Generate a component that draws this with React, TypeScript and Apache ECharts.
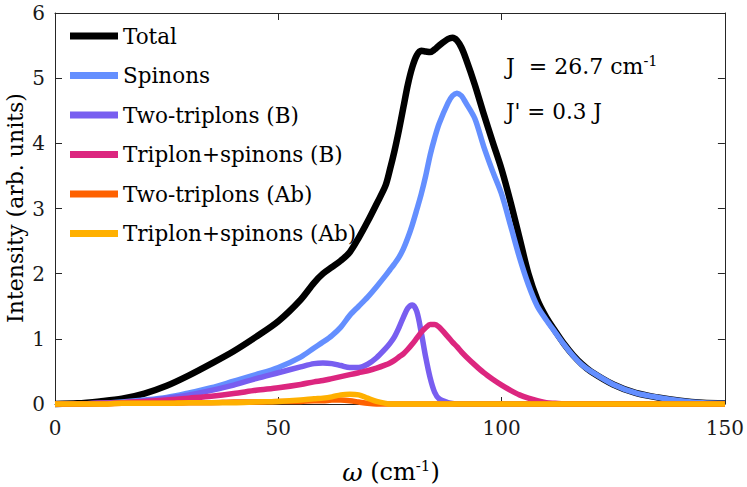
import React, { useEffect, useRef } from "react";
import * as echarts from "echarts";

const omega = [0,5,10,15,20,25,30,35,40,45,50,55,58,60,62,64,66,68,70,72,74,75,76,77,78,79,80,81,82,83,84,85,86,88,89,90,91,92,94,96,98,100,102,104,106,108,110,112,114,116,118,120,125,130,135,140,145,150];

const total = [0,0.01,0.04,0.08,0.16,0.28,0.44,0.62,0.81,1.03,1.27,1.6,1.86,2.0,2.1,2.2,2.33,2.55,2.8,3.07,3.35,3.6,3.88,4.2,4.55,4.9,5.17,5.35,5.42,5.41,5.4,5.44,5.5,5.6,5.62,5.58,5.47,5.3,4.9,4.45,4.02,3.6,3.1,2.55,2.0,1.6,1.33,1.12,0.92,0.75,0.61,0.5,0.3,0.17,0.1,0.05,0.02,0.01];

const spinons = [0,0,0.01,0.03,0.06,0.1,0.17,0.25,0.35,0.45,0.56,0.72,0.86,0.95,1.05,1.18,1.36,1.5,1.64,1.8,1.97,2.06,2.15,2.25,2.38,2.55,2.75,2.98,3.22,3.5,3.82,4.08,4.3,4.62,4.73,4.77,4.73,4.62,4.38,3.95,3.57,3.22,2.74,2.25,1.83,1.5,1.29,1.1,0.91,0.74,0.6,0.5,0.3,0.17,0.1,0.05,0.02,0.01];

const twoTriplonsB = [0,0,0.01,0.02,0.05,0.09,0.14,0.21,0.29,0.39,0.48,0.57,0.62,0.63,0.62,0.59,0.56,0.56,0.61,0.71,0.85,0.93,1.03,1.17,1.33,1.47,1.52,1.42,1.1,0.72,0.4,0.18,0.08,0.02,0.01,0,0,0,0,0,0,0,0,0,0,0,0,0,0,0,0,0,0,0,0,0,0,0];

const triplonSpinonsB = [0,0,0.01,0.02,0.04,0.06,0.09,0.12,0.16,0.21,0.25,0.3,0.34,0.36,0.39,0.42,0.45,0.48,0.51,0.55,0.6,0.63,0.67,0.72,0.77,0.84,0.92,1.01,1.1,1.17,1.22,1.22,1.18,1.03,0.95,0.88,0.8,0.73,0.6,0.48,0.38,0.29,0.21,0.14,0.09,0.05,0.02,0.01,0,0,0,0,0,0,0,0,0,0];

const twoTriplonsAb = [0,0,0,0.01,0.01,0.01,0.02,0.02,0.03,0.03,0.04,0.04,0.05,0.05,0.06,0.06,0.05,0.03,0.01,0,0,0,0,0,0,0,0,0,0,0,0,0,0,0,0,0,0,0,0,0,0,0,0,0,0,0,0,0,0,0,0,0,0,0,0,0,0,0];

const triplonSpinonsAb = [0,0,0,0.01,0.01,0.01,0.02,0.02,0.02,0.03,0.04,0.06,0.08,0.09,0.11,0.14,0.15,0.14,0.09,0.04,0.01,0,0,0,0,0,0,0,0,0,0,0,0,0,0,0,0,0,0,0,0,0,0,0,0,0,0,0,0,0,0,0,0,0,0,0,0,0];

const seriesNames = ["Total","Spinons","Two-triplons (B)","Triplon+spinons (B)","Two-triplons (Ab)","Triplon+spinons (Ab)"];
const seriesValues = [total, spinons, twoTriplonsB, triplonSpinonsB, twoTriplonsAb, triplonSpinonsAb];
const seriesColors = ["#000000","#648FFF","#785EF0","#DC267F","#FE6100","#FFB000"];
const seriesWidths = [6.5,5.5,5.5,5.5,5.5,5.5];

const xTicks = { min: 0, max: 150, interval: 50 };
const yTicks = { min: 0, max: 6, interval: 1 };

const FONT = "DejaVu Serif";
const AXIS_COLOR = "#262626";

export default function App() {
  const ref = useRef<HTMLDivElement>(null);
  useEffect(() => {
    if (!ref.current) return;
    const chart = echarts.init(ref.current, undefined, { renderer: "svg" });
    const axisCommon = {
      type: "value" as const,
      axisLine: { show: true, onZero: false, lineStyle: { color: AXIS_COLOR, width: 1 } },
      axisTick: { show: true, inside: true, length: 7, lineStyle: { color: AXIS_COLOR, width: 1 } },
      splitLine: { show: false },
    };
    const labelStyle = { fontFamily: FONT, fontSize: 20, color: "#1a1a1a" };
    chart.setOption({
      animation: false,
      backgroundColor: "#ffffff",
      grid: { left: 55, right: 19, top: 13, bottom: 83, containLabel: false },
      legend: {
        left: 65,
        top: 18,
        orient: "vertical",
        icon: "rect",
        itemWidth: 48,
        itemHeight: 7,
        itemGap: 13.5,
        textStyle: { fontFamily: FONT, fontSize: 21.5, color: "#000", lineHeight: 26 },
        data: seriesNames,
        selectedMode: false,
      },
      xAxis: [
        { ...axisCommon, ...xTicks, position: "bottom", axisLabel: { ...labelStyle, margin: 14 } },
        { ...axisCommon, ...xTicks, position: "top", axisLabel: { show: false } },
      ],
      yAxis: [
        { ...axisCommon, ...yTicks, position: "left", axisLabel: { ...labelStyle, margin: 10 } },
        { ...axisCommon, ...yTicks, position: "right", axisLabel: { show: false } },
      ],
      series: seriesNames.map((name, i) => ({
        name,
        type: "line",
        data: omega.map((x, j) => [x, seriesValues[i][j]]),
        showSymbol: false,
        symbol: "none",
        smooth: 0.3,
        clip: false,
        color: seriesColors[i],
        lineStyle: { color: seriesColors[i], width: seriesWidths[i], join: "round" },
        z: 2 + i,
      })),
      graphic: [
        {
          type: "text",
          x: 15,
          y: 208,
          rotation: Math.PI / 2,
          style: {
            text: "Intensity (arb. units)",
            fontFamily: FONT,
            fontSize: 22,
            fill: "#000",
            align: "center",
            verticalAlign: "middle",
          },
        },
        {
          type: "text",
          x: 391,
          y: 472,
          style: {
            text: "{w|ω}{n| (cm}{s|-1}{n|)}",
            fill: "#000",
            align: "center",
            verticalAlign: "middle",
            rich: {
              w: { fontFamily: FONT, fontSize: 25, fontStyle: "italic", lineHeight: 28, fill: "#000" },
              n: { fontFamily: FONT, fontSize: 24, lineHeight: 28, fill: "#000" },
              s: { fontFamily: FONT, fontSize: 15, lineHeight: 28, verticalAlign: "top", padding: [0, 0, 8, 0], fill: "#000" },
            },
          },
        },
        {
          type: "text",
          x: 506,
          y: 66,
          style: {
            text: "{n|J  = 26.7 cm}{s|-1}",
            fill: "#000",
            align: "left",
            verticalAlign: "middle",
            rich: {
              n: { fontFamily: FONT, fontSize: 22, lineHeight: 26, fill: "#000" },
              s: { fontFamily: FONT, fontSize: 14.5, lineHeight: 26, verticalAlign: "top", padding: [0, 0, 9, 0], fill: "#000" },
            },
          },
        },
        {
          type: "text",
          x: 506,
          y: 111,
          style: {
            text: "J' = 0.3 J",
            fontFamily: FONT,
            fontSize: 21.5,
            fill: "#000",
            align: "left",
            verticalAlign: "middle",
          },
        },
      ],
    });
    return () => chart.dispose();
  }, []);
  return (
    <div
      ref={ref}
      style={{ position: "absolute", left: 0, top: 0, width: 747, height: 487 }}
    />
  );
}
